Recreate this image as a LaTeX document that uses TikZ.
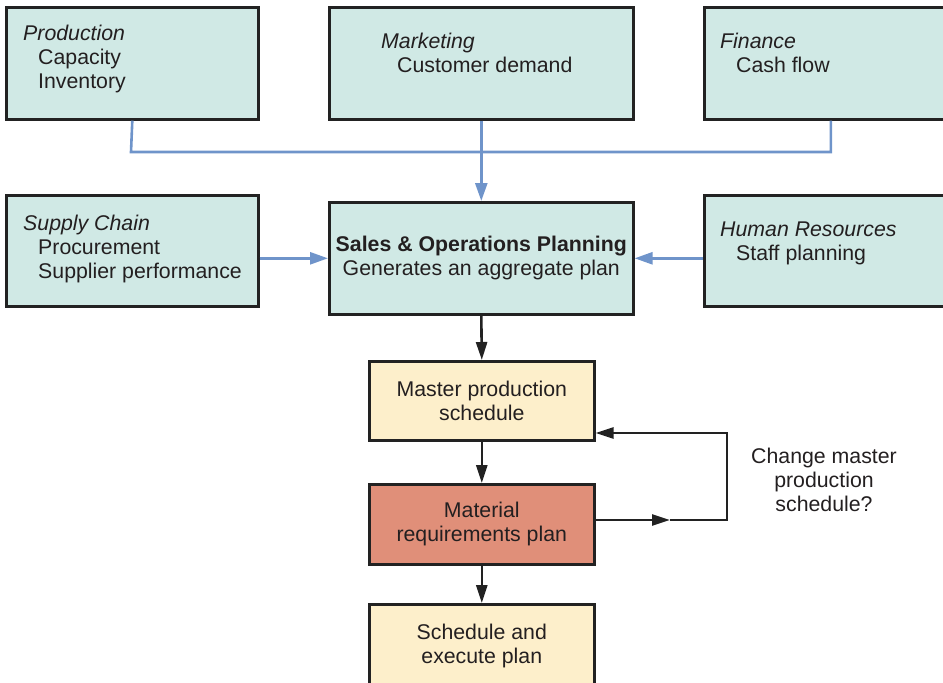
\documentclass[tikz,border=0pt]{standalone}
\usepackage{fontspec}
\setmainfont{Liberation Sans}
\usetikzlibrary{arrows.meta}
\definecolor{tealfill}{HTML}{D0E9E5}
\definecolor{yelfill}{HTML}{FDEFCB}
\definecolor{salfill}{HTML}{E08F79}
\definecolor{bluelink}{HTML}{6F94CA}
\definecolor{inkline}{HTML}{222222}
\definecolor{inktext}{HTML}{231F20}
\begin{document}
\begin{tikzpicture}[x=1pt,y=-1pt,
  box/.style={draw=inkline, line width=2.6pt, inner sep=0pt, anchor=north west},
  tealbox/.style={box, fill=tealfill},
  yelbox/.style={box, fill=yelfill, align=center, text=inktext, font=\fontsize{21.3}{24}\selectfont},
  salbox/.style={box, fill=salfill, align=center, text=inktext, font=\fontsize{21.3}{24}\selectfont},
  txt/.style={anchor=base west, inner sep=0pt, text=inktext, font=\fontsize{21.3}{24}\selectfont},
  bluearrow/.style={draw=bluelink, line width=2.6pt, -{Triangle[length=18pt,width=12pt]}},
  blueline/.style={draw=bluelink, line width=2.6pt},
  blackarrow/.style={draw=inkline, line width=2.6pt, -{Triangle[length=18pt,width=11pt]}}
]
\useasboundingbox (0,0) rectangle (943,683);
\clip (0,0) rectangle (943,683);

% top row
\node[tealbox, minimum width=252pt, minimum height=112pt] (prod) at (5,6) {};
\node[tealbox, minimum width=304pt, minimum height=112pt] (mkt) at (328,6) {};
\node[tealbox, minimum width=240pt, minimum height=112pt] (fin) at (703,6) {};
% middle row
\node[tealbox, minimum width=252pt, minimum height=111pt] (sc) at (5,194) {};
\node[tealbox, minimum width=304pt, minimum height=112pt, align=center, text=inktext, font=\fontsize{21.3}{24}\selectfont] (sop) at (328,201) {\textbf{Sales \& Operations Planning}\\Generates an aggregate plan};
\node[tealbox, minimum width=240pt, minimum height=111pt] (hr) at (703,194) {};
% lower column
\node[yelbox, minimum width=225pt, minimum height=79pt] (mps) at (368,360) {Master production\\schedule};
\node[salbox, minimum width=225pt, minimum height=80pt] (mrp) at (368,483) {Material\\requirements plan};
\node[yelbox, minimum width=225pt, minimum height=83pt] (sch) at (368,603) {Schedule and\\execute plan};

% texts in left-aligned boxes
\node[txt] (prodT) at (23,40) {\itshape Production};
\node[txt] (prodA) at (38,64) {Capacity};
\node[txt] (prodB) at (38,88) {Inventory};
\node[txt] (mktT) at (381,48) {\itshape Marketing};
\node[txt] (mktA) at (397,72) {Customer demand};
\node[txt] (finT) at (720,48) {\itshape Finance};
\node[txt] (finA) at (736,72) {Cash flow};
\node[txt] (scT) at (23,230) {\itshape Supply Chain};
\node[txt] (scA) at (38,254) {Procurement};
\node[txt] (scB) at (38,278) {Supplier performance};
\node[txt] (hrT) at (720,236) {\itshape Human Resources};
\node[txt] (hrA) at (736,260) {Staff planning};

\node[align=center, inner sep=0pt, text=inktext, font=\fontsize{21.3}{24}\selectfont] (chg) at (824,480) {Change master\\production\\schedule?};

% blue connectors
\coordinate (jn) at (131,152);
\draw[blueline] (prod.south) -- (jn) -| ([xshift=6.5pt]fin.south);
\draw[bluearrow] (mkt.south) -- (sop.north);
\draw[bluearrow] (sop.west -| sc.east) -- (sop.west);
\draw[bluearrow] (sop.east -| hr.west) -- (sop.east);

% black connectors
\draw[blackarrow] (sop.south) -- (mps.north);
\draw[blackarrow] (mps.south) -- (mrp.north);
\draw[blackarrow] (mrp.south) -- (sch.north);
\coordinate (mid) at (670,520);
\coordinate (lpA) at (727,520);
\coordinate (lpB) at (727,433);
\draw[blackarrow] (mrp.east |- mid) -- (mid);
\draw[blackarrow] (mid) -- (lpA) -- (lpB) -- (mps.east |- lpB);
\end{tikzpicture}
\end{document}
